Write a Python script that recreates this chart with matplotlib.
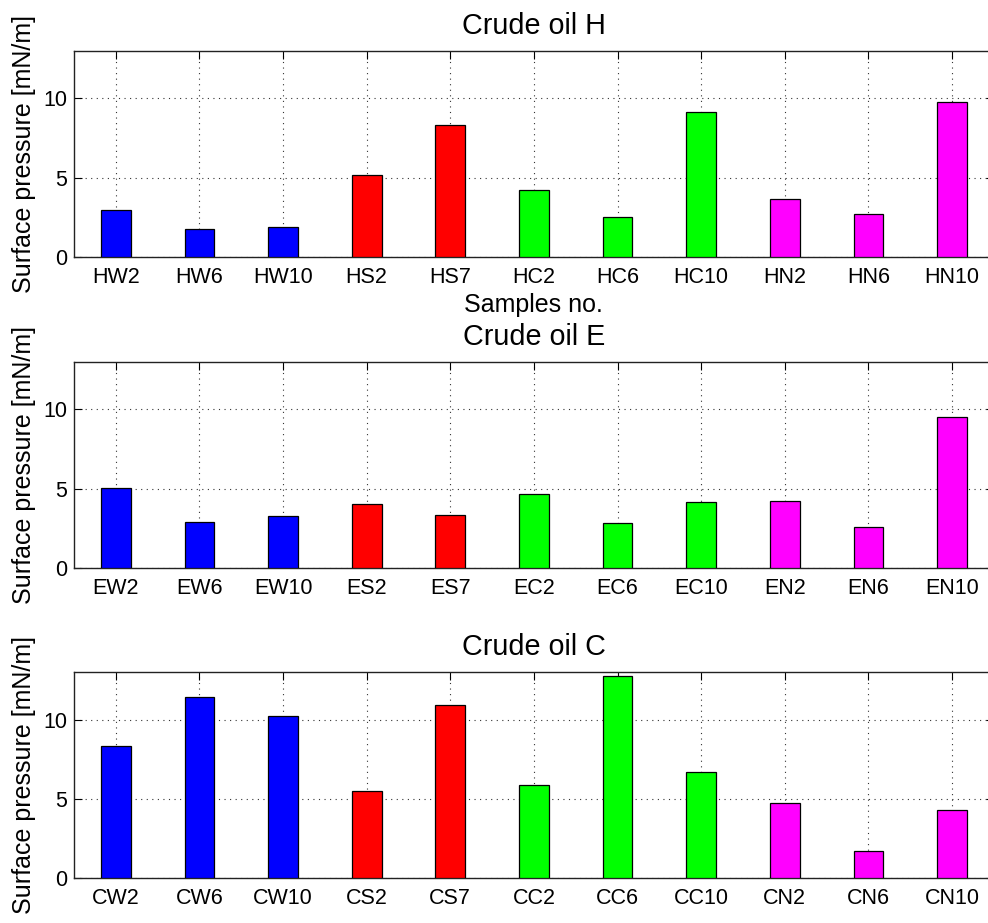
import matplotlib
matplotlib.use("Agg")
import matplotlib.pyplot as plt
import numpy as np

plt.rcParams['font.family'] = ['Liberation Sans', 'DejaVu Sans']

# sample names and surface pressure [mN/m] for each crude oil
labels_H = ["HW2", "HW6", "HW10", "HS2", "HS7", "HC2", "HC6", "HC10", "HN2", "HN6", "HN10"]
values_H = [2.95, 1.77, 1.88, 5.17, 8.31, 4.22, 2.51, 9.16, 3.65, 2.74, 9.81]

labels_E = ["EW2", "EW6", "EW10", "ES2", "ES7", "EC2", "EC6", "EC10", "EN2", "EN6", "EN10"]
values_E = [5.07, 2.91, 3.31, 4.03, 3.35, 4.67, 2.87, 4.17, 4.21, 2.60, 9.53]

labels_C = ["CW2", "CW6", "CW10", "CS2", "CS7", "CC2", "CC6", "CC10", "CN2", "CN6", "CN10"]
values_C = [8.31, 11.41, 10.21, 5.53, 10.90, 5.89, 12.76, 6.70, 4.74, 1.72, 4.30]

titles = ["Crude oil H", "Crude oil E", "Crude oil C"]

# W = blue, S = red, C = green, N = magenta
group_colors = ["#0000ff"] * 3 + ["#ff0000"] * 2 + ["#00ff00"] * 3 + ["#ff00ff"] * 3

fig = plt.figure(figsize=(9.88, 9.23), dpi=100)

#axes boxes [left, bottom, width, height]; right edge runs past the picture like the original
boxes = [[0.0749, 0.7216, 0.931, 0.2232],
         [0.0749, 0.3843, 0.931, 0.2238],
         [0.0749, 0.0484, 0.931, 0.2235]]

data = [(labels_H, values_H), (labels_E, values_E), (labels_C, values_C)]

for i, (labels, values) in enumerate(data):
    ax = fig.add_axes(boxes[i])
    x = np.arange(1, len(labels) + 1)
    ax.bar(x, values, width=0.355, color=group_colors, edgecolor="black", linewidth=0.9, zorder=3)
    ax.set_xlim(0.5, 11.5)
    ax.set_ylim(0, 13)
    ax.set_xticks(x)
    ax.set_xticklabels(labels)
    ax.set_yticks([0, 5, 10])
    ax.tick_params(direction="in", length=6, width=0.8, top=True, right=True, labelsize=15.5)
    ax.tick_params(axis="x", pad=7)
    ax.tick_params(axis="y", pad=5)
    ax.grid(True, linestyle=(0, (1, 4)), color="#333333", linewidth=0.8, zorder=0)
    for s in ax.spines.values():
        s.set_linewidth(1.0)
        s.set_color("#222222")
    ax.set_title(titles[i], fontsize=20.7, pad=12)
    ax.set_ylabel("Surface pressure [mN/m]", fontsize=18, labelpad=5)
    if i == 0:
        ax.set_xlabel("Samples no.", fontsize=18, labelpad=4)

fig.savefig("out.png", dpi=100)
